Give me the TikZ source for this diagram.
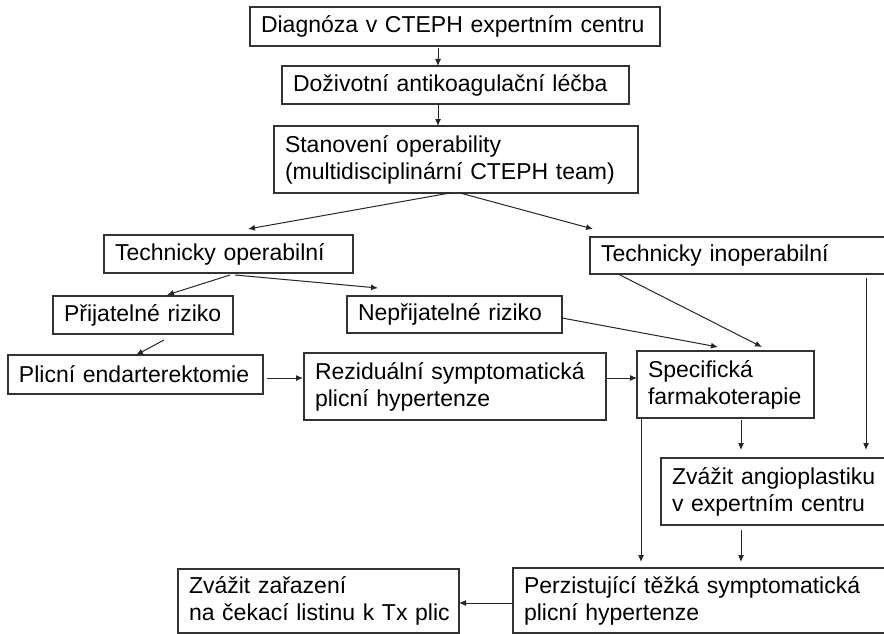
\documentclass[tikz,border=0pt]{standalone}
\usepackage{fontspec}
\setmainfont{Liberation Sans}
\usetikzlibrary{arrows.meta}
\tikzset{>=Latex}

\begin{document}
\begin{tikzpicture}[x=1pt, y=1pt,
squarednode/.style={rectangle, draw=black!80, line width=1.3pt, align=left, anchor=north west, inner xsep=11pt, inner ysep=0pt, outer sep=0pt, font=\fontsize{23}{27}\selectfont},
arrowline/.style={->, draw=black!85, line width=1pt, >={Latex[length=7pt, width=6pt]}},
]
\useasboundingbox (0,0) rectangle (884,-634);
\clip (0,0) rectangle (884,-634);
%Nodes
\node[squarednode, text width=388pt, minimum height=39pt](Diagnoza) at (250,-7) {Diagnóza v CTEPH expertním centru};
\node[squarednode, text width=325pt, minimum height=38pt](Lecba) at (282,-66) {Doživotní antikoagulační léčba};
\node[squarednode, text width=342pt, minimum height=67pt](Operabilita) at (274,-126) {Stanovení operability\\(multidisciplinární CTEPH team)};

\node[squarednode, text width=227pt, minimum height=38pt](Technicky operabilni) at (104,-235) {Technicky operabilní};
\node[squarednode, text width=308pt, minimum height=37pt](Technicky inoperabilni) at (590,-237) {Technicky inoperabilní};

\node[squarednode, text width=158pt, minimum height=38pt](Prijatelne riziko) at (53,-296) {Přijatelné riziko};
\node[squarednode, text width=193pt, minimum height=37pt](Neprijatelne riziko) at (347,-296) {Nepřijatelné riziko};

\node[squarednode, text width=233pt, minimum height=39pt](Endarterektomie) at (8,-355) {Plicní~endarterektomie};
\node[squarednode, text width=280pt, minimum height=67pt](Rezidualni PH) at (304,-353) {Reziduální symptomatická\\plicní hypertenze};
\node[squarednode, text width=155pt, minimum height=67pt](Farmakoterapie) at (637,-351) {Specifická\\farmakoterapie};

\node[squarednode, text width=238pt, minimum height=67pt](Angioplastika) at (661,-458) {Zvážit angioplastiku\\v expertním centru};
\node[squarednode, text width=378pt, minimum height=65pt](Perzistujici PH) at (513,-568) {Perzistující těžká symptomatická\\plicní hypertenze};
\node[squarednode, text width=259pt, minimum height=64pt](Transplantace) at (178,-569) {Zvážit zařazení\\na~čekací~listinu~k~Tx~plic};

%Lines
\draw[arrowline] ([xshift=188pt, yshift=-2pt]Diagnoza.south west) -- ([xshift=156pt]Lecba.north west);
\draw[arrowline] ([xshift=156pt]Lecba.south west) -- ([xshift=164pt]Operabilita.north west);

\draw[arrowline] ([xshift=176pt]Operabilita.south west) -- ([xshift=144pt, yshift=6pt]Technicky operabilni.north west);
\draw[arrowline] ([xshift=186pt]Operabilita.south west) -- ([xshift=3pt, yshift=8pt]Technicky inoperabilni.north west);

\draw[arrowline] ([xshift=126pt, yshift=-2pt]Technicky operabilni.south west) -- ([xshift=114pt, yshift=1pt]Prijatelne riziko.north west);
\draw[arrowline] ([xshift=131pt, yshift=-2pt]Technicky operabilni.south west) -- ([xshift=31pt, yshift=8pt]Neprijatelne riziko.north west);

\draw[arrowline] ([xshift=111pt, yshift=-6pt]Prijatelne riziko.south west) -- ([xshift=128pt]Endarterektomie.north west);
\draw[arrowline] ([xshift=4pt, yshift=16pt]Endarterektomie.south east) -- ([xshift=-1pt, yshift=-25pt]Rezidualni PH.north west);
\draw[arrowline] ([yshift=-25pt]Rezidualni PH.north east) -- ([yshift=-27pt]Farmakoterapie.north west);

\draw[arrowline] ([yshift=-22pt]Neprijatelne riziko.north east) -- ([xshift=81pt, yshift=4pt]Farmakoterapie.north west);
\draw[arrowline] ([xshift=30pt, yshift=-1pt]Technicky inoperabilni.south west) -- ([xshift=125pt, yshift=4pt]Farmakoterapie.north west);
\draw[arrowline] ([xshift=276pt, yshift=-4pt]Technicky inoperabilni.south west) -- ([xshift=205pt, yshift=8pt]Angioplastika.north west);

\draw[arrowline] ([xshift=104pt, yshift=-2pt]Farmakoterapie.south west) -- ([xshift=80pt, yshift=8pt]Angioplastika.north west);
\draw[arrowline] ([xshift=80pt, yshift=-5pt]Angioplastika.south west) -- ([xshift=228pt, yshift=6pt]Perzistujici PH.north west);
\draw[arrowline] ([xshift=4pt]Farmakoterapie.south west) -- ([xshift=128pt, yshift=6pt]Perzistujici PH.north west);

\draw[arrowline] ([yshift=30pt]Perzistujici PH.south west) -- ([yshift=30pt]Transplantace.south east);
\end{tikzpicture}
\end{document}
